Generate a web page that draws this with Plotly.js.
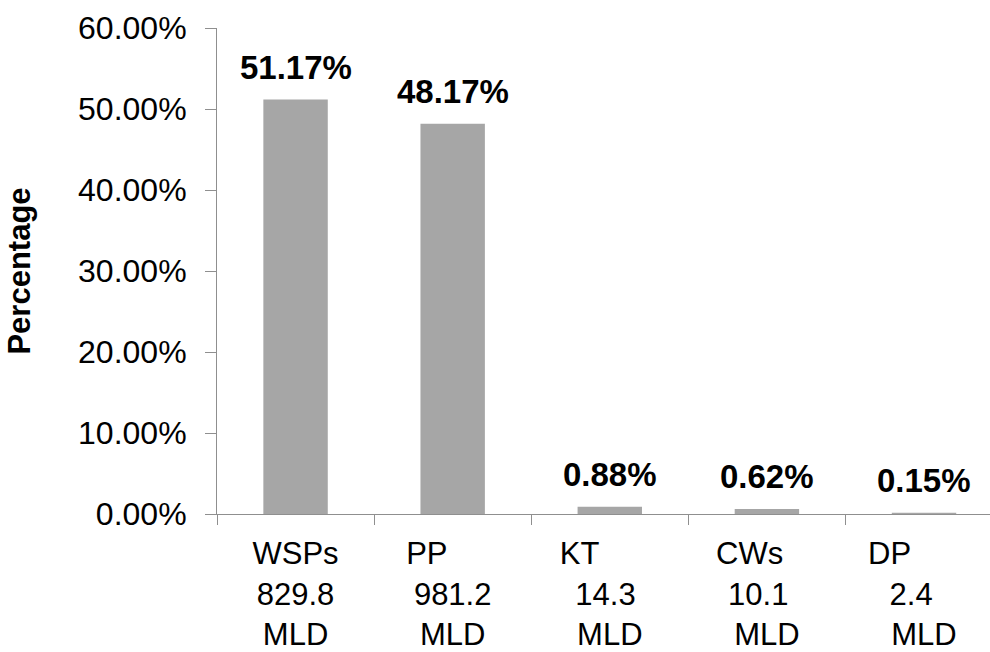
<!DOCTYPE html>
<html>
<head>
<meta charset="utf-8">
<script src="https://cdn.plot.ly/plotly-3.0.1.min.js"></script>
<style>
  html, body { margin: 0; padding: 0; background: #ffffff; }
  #chart { width: 990px; height: 652px; }
</style>
</head>
<body>
<div id="chart"></div>
<script>
// Treatment system names, their daily flows (MLD) and share of total (%)
const systems = ['WSPs', 'PP', 'KT', 'CWs', 'DP'];
const flowsMLD = ['829.8', '981.2', '14.3', '10.1', '2.4'];
const sharePct = [51.17, 48.17, 0.88, 0.62, 0.15];
const flowUnit = 'MLD';

const FONT = 'Liberation Sans, Arial, Helvetica, sans-serif';
const AXIS_GREY = '#8f8f8f';

// Trailing non-breaking spaces keep the wrapped label lines offset the way
// the spreadsheet labels were typed (name line, flow line, unit line).
const NBSP = '\u00a0';
const lineIndent = [
  [0, 0, 0],
  [6, 0, 0],
  [7, 1, 0],
  [4, 2, 0],
  [8, 3, 0]
];
const tickText = systems.map((name, i) => {
  const lines = [name, flowsMLD[i], flowUnit];
  return lines.map((s, j) => s + NBSP.repeat(lineIndent[i][j])).join('<br>');
});

const bars = {
  type: 'bar',
  x: systems,
  y: sharePct,
  width: 0.41,
  marker: { color: '#a6a6a6', line: { width: 0 } },
  hoverinfo: 'x+y'
};

// Bold percentage labels above each bar
const valueLabels = systems.map((name, i) => ({
  x: name,
  y: sharePct[i],
  xref: 'x',
  yref: 'y',
  text: '<b>' + sharePct[i].toFixed(2) + '%</b>',
  showarrow: false,
  yanchor: 'bottom',
  xanchor: 'center',
  yshift: 12,
  font: { family: FONT, size: 33, color: '#000000' }
}));

const layout = {
  width: 990,
  height: 652,
  margin: { l: 217, r: 0, t: 28, b: 138, pad: 0 },
  paper_bgcolor: '#ffffff',
  plot_bgcolor: '#ffffff',
  showlegend: false,
  bargap: 0.59,
  xaxis: {
    type: 'category',
    range: [-0.5, 4.42],
    tickmode: 'array',
    tickvals: systems,
    ticktext: tickText,
    tickson: 'boundaries',
    ticks: 'outside',
    ticklen: 10,
    tickwidth: 1,
    tickcolor: AXIS_GREY,
    showline: true,
    linecolor: AXIS_GREY,
    linewidth: 1,
    showgrid: false,
    zeroline: false,
    tickangle: 0,
    ticklabelstandoff: 12,
    tickfont: { family: FONT, size: 31, color: '#000000' }
  },
  yaxis: {
    range: [0, 60],
    dtick: 10,
    tick0: 0,
    tickformat: '.2f',
    ticksuffix: '%',
    ticks: 'outside',
    ticklen: 11,
    tickwidth: 1,
    tickcolor: AXIS_GREY,
    showline: true,
    linecolor: AXIS_GREY,
    linewidth: 1,
    showgrid: false,
    zeroline: false,
    ticklabelstandoff: 12,
    tickfont: { family: FONT, size: 32, color: '#000000' },
    title: {
      text: '<b>Percentage</b>',
      standoff: 38,
      font: { family: FONT, size: 31, color: '#000000' }
    }
  },
  annotations: valueLabels
};

Plotly.newPlot('chart', [bars], layout, { staticPlot: true, displayModeBar: false });
</script>
</body>
</html>
